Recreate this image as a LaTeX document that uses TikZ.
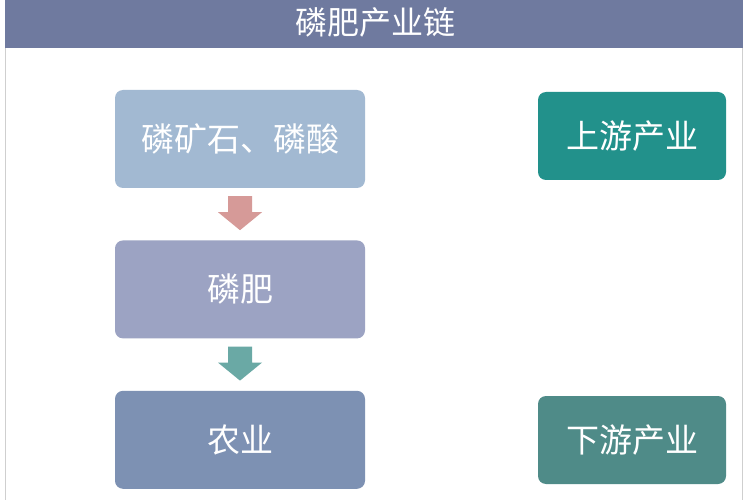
\documentclass[tikz,border=0pt]{standalone}
\usepackage{fontspec}
\newfontfamily\cjk{Noto Sans CJK SC}
\usetikzlibrary{positioning}
\definecolor{headblue}{HTML}{6F7A9F}
\definecolor{oreblue}{HTML}{A2B9D2}
\definecolor{fertblue}{HTML}{9CA3C3}
\definecolor{agriblue}{HTML}{7D91B3}
\definecolor{upteal}{HTML}{22918B}
\definecolor{downteal}{HTML}{4F8B88}
\definecolor{arrpink}{HTML}{D69A98}
\definecolor{arrteal}{HTML}{6AA9A5}
\definecolor{framegray}{HTML}{CFCFCF}

\begin{document}
\begin{tikzpicture}[x=1pt, y=-1pt,
    chainbox/.style={rounded corners=8pt, minimum width=250pt,
        minimum height=98pt, text=white, font=\cjk\fontsize{33}{38}\selectfont},
    sidebox/.style={chainbox, minimum width=188pt, minimum height=88pt}]
    \useasboundingbox (0,0) rectangle (750,500);
    \fill[white] (0,0) rectangle (750,500);
    \draw[framegray] (5,0) -- (5,500) (742,0) -- (742,500);
    \fill[headblue] (5,0) rectangle (743,48);
    \node[text=white, font=\cjk\fontsize{32}{38}\selectfont] (title) at (375,22) {磷肥产业链};
    % main chain
    \node[chainbox, fill=oreblue] (ore) at (240,139) {磷矿石、磷酸};
    \node[chainbox, fill=fertblue, below=52pt of ore] (fert) {磷肥};
    \node[chainbox, fill=agriblue, below=52pt of fert] (agri) {农业};
    % block arrows between the boxes
    \foreach \from/\to/\col in {ore/fert/arrpink, fert/agri/arrteal}
        \fill[\col] ([shift={(-12pt,-8pt)}]\from.south) -- ++(0,-16pt)
            -- ++(-10pt,0) -- ([yshift=10pt]\to.north) -- ++(22pt,18pt)
            -- ++(-10pt,0) -- ++(0,16pt) -- cycle;
    % side labels
    \node[sidebox, fill=upteal] (up) at (632,136) {上游产业};
    \node[sidebox, fill=downteal] (down) at (632,440) {下游产业};
\end{tikzpicture}
\end{document}
